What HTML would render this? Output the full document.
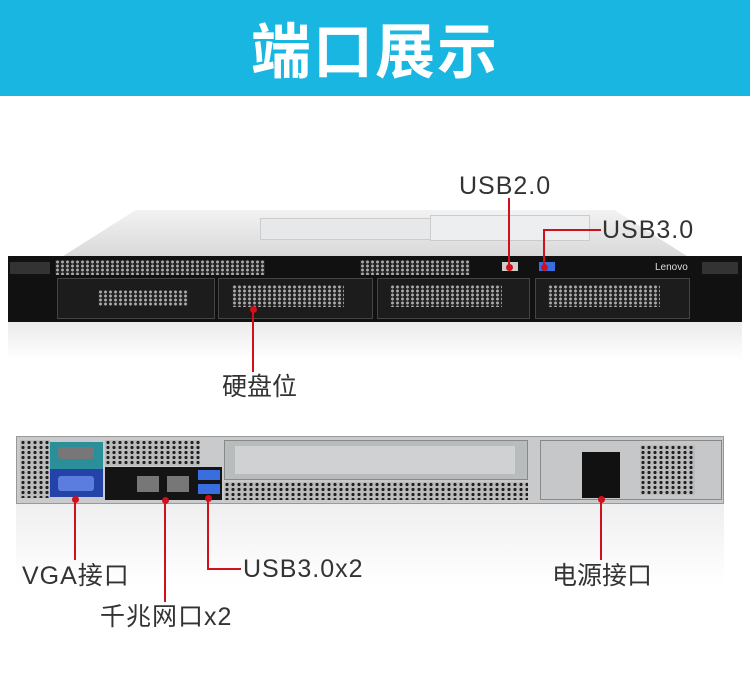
<!DOCTYPE html><html><head><meta charset="utf-8"><style>
body{margin:0;width:750px;height:685px;background:#fff;position:relative;overflow:hidden;font-family:"Liberation Sans","Noto Sans CJK SC",sans-serif}
div{position:absolute;box-sizing:border-box}
.t{color:#333;font-size:25px;letter-spacing:1px;white-space:nowrap;line-height:1}
.r{background:#d0101a}
.dot{width:7px;height:7px;border-radius:50%;background:#d0101a}
.mesh{background-color:#222;background-image:radial-gradient(circle,#aaa 1.3px,transparent 1.6px);background-size:5px 4px}
.gmesh{background-color:#bbb;background-image:radial-gradient(circle,#222 1.5px,transparent 1.8px);background-size:6px 5px}
.bay{background:#1c1c1c;border:1px solid #444}
</style></head><body>
<div style="left:0;top:0;width:750px;height:96px;background:#19b6e2"></div>
<div style="left:0;top:20px;width:750px;text-align:center;color:#fff;font-size:60px;font-weight:bold;letter-spacing:2px;line-height:1.1">端口展示</div>

<div style="left:60px;top:210px;width:630px;height:48px;background:linear-gradient(#f2f2f2,#d8d8d8);clip-path:polygon(12% 0,88% 0,100% 100%,0 100%)"></div>
<div style="left:260px;top:218px;width:180px;height:22px;background:#e6e8ea;border:1px solid #ccc"></div>
<div style="left:430px;top:215px;width:160px;height:26px;background:#eceef0;border:1px solid #ccc"></div>
<div style="left:8px;top:256px;width:734px;height:66px;background:#111"></div>
<div style="left:10px;top:262px;width:40px;height:12px;background:#333"></div>
<div style="left:702px;top:262px;width:36px;height:12px;background:#333"></div>
<div class="mesh" style="left:55px;top:260px;width:210px;height:15px"></div>
<div class="mesh" style="left:360px;top:260px;width:110px;height:15px"></div>
<div style="left:655px;top:262px;color:#ddd;font-size:10px">Lenovo</div>
<div style="left:502px;top:262px;width:16px;height:9px;background:#ccc"></div>
<div style="left:539px;top:262px;width:16px;height:9px;background:#3a6ee0"></div>
<div class="bay" style="left:57px;top:278px;width:158px;height:41px"></div>
<div class="mesh" style="left:98px;top:290px;width:90px;height:16px"></div>
<div class="bay" style="left:218px;top:278px;width:155px;height:41px"></div>
<div class="mesh" style="left:232px;top:285px;width:112px;height:22px"></div>
<div class="bay" style="left:377px;top:278px;width:153px;height:41px"></div>
<div class="mesh" style="left:390px;top:285px;width:112px;height:22px"></div>
<div class="bay" style="left:535px;top:278px;width:155px;height:41px"></div>
<div class="mesh" style="left:548px;top:285px;width:112px;height:22px"></div>
<div style="left:8px;top:322px;width:734px;height:38px;background:linear-gradient(#ddd,#fff);opacity:.6"></div>

<div style="left:16px;top:436px;width:708px;height:68px;background:#c8cacb;border:1px solid #999"></div>
<div class="gmesh" style="left:20px;top:440px;width:30px;height:58px"></div>
<div style="left:50px;top:442px;width:53px;height:27px;background:#2a8f98"></div>
<div style="left:50px;top:469px;width:53px;height:28px;background:#2443a8"></div>
<div style="left:58px;top:447px;width:36px;height:12px;background:#777;border-radius:3px"></div>
<div style="left:58px;top:476px;width:36px;height:15px;background:#5b7de0;border-radius:3px"></div>
<div class="gmesh" style="left:105px;top:440px;width:95px;height:26px"></div>
<div style="left:105px;top:467px;width:117px;height:33px;background:#141414"></div>
<div style="left:137px;top:476px;width:22px;height:16px;background:#777"></div>
<div style="left:167px;top:476px;width:22px;height:16px;background:#777"></div>
<div style="left:198px;top:470px;width:22px;height:10px;background:#3a6ee0"></div>
<div style="left:198px;top:484px;width:22px;height:10px;background:#3a6ee0"></div>
<div style="left:224px;top:440px;width:304px;height:40px;background:#b9bcbd;border:1px solid #888"></div>
<div style="left:235px;top:446px;width:280px;height:28px;background:#cfd1d2"></div>
<div class="gmesh" style="left:224px;top:482px;width:304px;height:18px"></div>
<div style="left:540px;top:440px;width:182px;height:60px;background:#c5c7c8;border:1px solid #888"></div>
<div style="left:582px;top:452px;width:38px;height:46px;background:#111"></div>
<div class="gmesh" style="left:640px;top:445px;width:55px;height:50px"></div>
<div style="left:16px;top:504px;width:708px;height:80px;background:linear-gradient(#e4e4e4,#fff);opacity:.6"></div>

<div class="t" style="left:459px;top:174px">USB2.0</div>
<div class="r" style="left:508px;top:198px;width:2px;height:70px"></div><div class="dot" style="left:506px;top:264px"></div>
<div class="t" style="left:602px;top:218px">USB3.0</div>
<div class="r" style="left:543px;top:229px;width:58px;height:2px"></div>
<div class="r" style="left:543px;top:229px;width:2px;height:38px"></div><div class="dot" style="left:541px;top:264px"></div>
<div class="t" style="left:222px;top:375px;letter-spacing:0">硬盘位</div>
<div class="r" style="left:252px;top:308px;width:2px;height:64px"></div><div class="dot" style="left:250px;top:306px"></div>
<div class="t" style="left:22px;top:564px">VGA接口</div>
<div class="r" style="left:74px;top:498px;width:2px;height:62px"></div><div class="dot" style="left:72px;top:496px"></div>
<div class="t" style="left:100px;top:605px">千兆网口x2</div>
<div class="r" style="left:164px;top:500px;width:2px;height:102px"></div><div class="dot" style="left:162px;top:497px"></div>
<div class="t" style="left:243px;top:557px">USB3.0x2</div>
<div class="r" style="left:207px;top:498px;width:2px;height:71px"></div>
<div class="r" style="left:207px;top:568px;width:34px;height:2px"></div><div class="dot" style="left:205px;top:495px"></div>
<div class="t" style="left:552px;top:564px;letter-spacing:0">电源接口</div>
<div class="r" style="left:600px;top:498px;width:2px;height:62px"></div><div class="dot" style="left:598px;top:496px"></div>
</body></html>
